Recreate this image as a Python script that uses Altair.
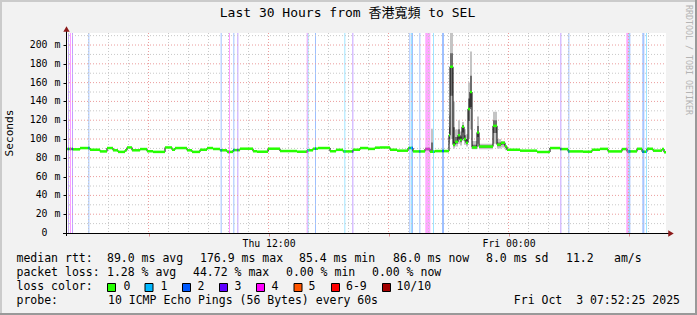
import altair as alt
import pandas as pd
import numpy as np

# ---------------- data ----------------
START = "2025-10-02 01:52:25"      # left edge of the graph (UTC)
SPAN_MIN = 1800                    # 30 hours

# median RTT, step breakpoints: minutes after START, value in ms
med_min = [0, 21, 42, 72, 102, 123, 141, 156, 177, 183, 198, 222, 243, 261, 297, 318, 327, 363, 378, 402,
           423, 441, 462, 483, 501, 522, 561, 573, 606, 642, 693, 723, 741, 756, 792, 810, 831, 861, 882, 906,
           927, 942, 972, 993, 1026, 1041, 1077, 1092, 1107, 1149, 1152, 1161, 1167, 1176, 1182, 1188, 1194,
           1200, 1206, 1212, 1218, 1233, 1239, 1281, 1293, 1305, 1317, 1323, 1362, 1413, 1452, 1482, 1506,
           1551, 1578, 1602, 1626, 1668, 1683, 1713, 1728, 1743, 1761, 1788, 1794]
med_ms = [89.4, 89.0, 90.4, 88.6, 86.8, 90.4, 88.0, 86.3, 88.0, 91.0, 88.0, 89.3, 87.0, 86.3, 91.0, 88.6,
          90.4, 88.0, 86.3, 88.6, 90.4, 89.4, 88.0, 86.3, 88.2, 89.7, 87.0, 86.5, 89.7, 87.2, 86.5, 88.0,
          89.7, 90.4, 87.0, 88.5, 86.8, 88.6, 90.4, 89.5, 90.8, 91.0, 88.6, 87.6, 90.4, 86.8, 89.3, 86.5,
          87.2, 104, 176.9, 94, 97, 104, 99, 113, 100, 96, 132, 150, 91, 107, 92, 114, 94, 96, 92, 88.6,
          87.6, 86.2, 90.4, 89.3, 86.8, 86.5, 88.6, 89.5, 86.8, 89.3, 86.8, 89.6, 86.5, 89.6, 87.6, 89.3, 86.0]

# smoke (min / max ping) where it is visible
smoke_min = [1092, 1095, 1101, 1149, 1152, 1161, 1167, 1176, 1182, 1188, 1194, 1200, 1206, 1212, 1218,
             1233, 1239, 1281, 1293, 1305, 1317, 1323]
smoke_lo = [86, 86, 86, 95, 100, 90, 92, 95, 93, 98, 94, 92, 100, 110, 89, 95, 89, 95, 90, 91, 88, 88.6]
smoke_hi = [87, 111, 88, 125, 213, 140, 110, 120, 108, 118, 110, 105, 160, 193, 98, 124, 95, 129, 100,
            98, 92, 88.6]

# packet loss events: minutes after START, lost pings out of 10
loss_min = [6, 12, 18, 67, 464, 489, 502, 514, 722, 725, 747, 835, 859, 1030, 1035, 1038, 1060, 1078,
            1081, 1084, 1087, 1090, 1101, 1128, 1131, 1483, 1507, 1681, 1684, 1687, 1690, 1729, 1732, 1740]
loss_cnt = [3, 4, 3, 2, 2, 4, 2, 3, 4, 1, 2, 1, 3, 2, 1, 2, 2, 4, 4, 4, 4, 4, 1, 2, 2, 3, 2, 4, 4, 1, 2,
            2, 2, 1]

loss_labels = ["0", "1", "2", "3", "4", "5", "6-9", "10/10"]
loss_colors = ["#26ff00", "#00b8ff", "#0059ff", "#5e00ff", "#ff00fe", "#ff5500", "#ff0000", "#a10000"]

title_text = "Last 30 Hours from 香港寬頻 to SEL"
rtt_stats = ["89.0 ms avg", "176.9 ms max", "85.4 ms min", "86.0 ms now", "8.0 ms sd", "11.2", "am/s"]
loss_stats = ["1.28 % avg", "44.72 % max", "0.00 % min", "0.00 % now"]
probe_text = "10 ICMP Echo Pings (56 Bytes) every 60s"
stamp_text = "Fri Oct \u00a03 07:52:25 2025"
y_ticks = list(range(0, 201, 20))

# ---------------- layout ----------------
MONO = "DejaVu Sans Mono"
PL, PT, W, H = 66, 33, 600, 200
TOT_W, TOT_H = 697, 315

t0 = pd.Timestamp(START, tz="UTC").value // 10**6


def ms(m):
    return int(t0 + round(m * 60000))


def lvl(c):
    if c >= 10:
        return "10/10"
    if c >= 6:
        return "6-9"
    return str(c)


med_arr = np.array(med_ms)


def med_at(m):
    i = int(np.searchsorted(med_min, m, side="right")) - 1
    return float(med_arr[i])


xscale = alt.Scale(type="utc", domain=[ms(0), ms(SPAN_MIN)], nice=False)
yscale = alt.Scale(domain=[0, 212.8], nice=False, zero=True)

six_h = [int(t.value // 10**6) for t in pd.date_range("2025-10-02 06:00", "2025-10-03 06:00", freq="6h", tz="UTC")]
hours = [int(t.value // 10**6) for t in pd.date_range("2025-10-02 02:00", "2025-10-03 07:00", freq="1h", tz="UTC")]
minor_h = [h for h in hours if h not in six_h]

xaxis = alt.Axis(values=six_h,
                 labelExpr="utchours(datum.value) % 12 == 0 ? utcFormat(datum.value, '%a %H:%M') : ''",
                 grid=False, domain=False, ticks=True, tickSize=3, tickColor="#e09090",
                 labelFont=MONO, labelFontSize=9.8, labelColor="black", labelPadding=2,
                 title=None, labelFlush=False, labelOverlap=False)
yaxis = alt.Axis(values=y_ticks, labels=False, grid=False, domain=False, ticks=True, tickSize=3,
                 tickColor="black", title=None)


def X(f):
    return alt.X(f, type="temporal", scale=xscale, axis=xaxis)


def Y(f):
    return alt.Y(f, type="quantitative", scale=yscale, axis=yaxis)


layers = []

# loss background bars
loss_df = pd.DataFrame({
    "t": [ms(m) for m in loss_min],
    "t2": [ms(m + 3) for m in loss_min],
    "lvl": [lvl(c) for c in loss_cnt],
    "v": [med_at(m) for m in loss_min],
})
color_scale = alt.Scale(domain=loss_labels, range=loss_colors)
layers.append(alt.Chart(loss_df).mark_rect(opacity=0.38).encode(
    x=X("t"), x2="t2", y=alt.value(0), y2=alt.value(H),
    color=alt.Color("lvl:N", scale=color_scale, legend=None)))

# grid
layers.append(alt.Chart(pd.DataFrame({"t": minor_h})).mark_rule(
    color="#c8c8c8", strokeDash=[1, 2], strokeWidth=1).encode(x=X("t"), y=alt.value(0), y2=alt.value(H)))
minor_y = [v for v in range(10, 212, 10) if v % 20 != 0]
layers.append(alt.Chart(pd.DataFrame({"v": minor_y})).mark_rule(
    color="#c8c8c8", strokeDash=[1, 2], strokeWidth=1).encode(y=Y("v"), x=alt.value(0), x2=alt.value(W)))
layers.append(alt.Chart(pd.DataFrame({"t": six_h})).mark_rule(
    color="#eb9c9c", strokeDash=[1, 2], strokeWidth=1).encode(x=X("t"), y=alt.value(0), y2=alt.value(H)))
layers.append(alt.Chart(pd.DataFrame({"v": [v for v in y_ticks if v > 0]})).mark_rule(
    color="#eb9c9c", strokeDash=[1, 2], strokeWidth=1).encode(y=Y("v"), x=alt.value(0), x2=alt.value(W)))

# smoke
sm = pd.DataFrame({"t": [ms(m) for m in smoke_min], "lo": smoke_lo, "hi": smoke_hi})
sm["med"] = [med_at(m) for m in smoke_min]
sm["lo_in"] = sm["med"] - (sm["med"] - sm["lo"]) * 0.4
sm["hi_in"] = sm["med"] + (sm["hi"] - sm["med"]) * 0.4
layers.append(alt.Chart(sm).mark_area(color="#c4c4c4", interpolate="step-after", clip=True).encode(
    x=X("t"), y=Y("lo"), y2="hi"))
layers.append(alt.Chart(sm).mark_area(color="#6e6e6e", interpolate="step-after", clip=True).encode(
    x=X("t"), y=Y("lo_in"), y2="hi_in"))

# median line (black step) + coloured segments
line_df = pd.DataFrame({"t": [ms(m) for m in med_min] + [ms(SPAN_MIN)],
                        "v": med_ms + [med_ms[-1]]})
layers.append(alt.Chart(line_df).mark_line(color="black", strokeWidth=1, interpolate="step-after",
                                           clip=True).encode(x=X("t"), y=Y("v")))
seg_df = pd.DataFrame({"t": [ms(m) for m in med_min],
                       "t2": [ms(m) for m in med_min[1:]] + [ms(SPAN_MIN)],
                       "v": med_ms})
layers.append(alt.Chart(seg_df).mark_rule(color="#26ff00", strokeWidth=2.5, clip=True).encode(
    x=X("t"), x2="t2", y=Y("v")))
layers.append(alt.Chart(loss_df).mark_rule(strokeWidth=2.5, clip=True).encode(
    x=X("t"), x2="t2", y=Y("v"), color=alt.Color("lvl:N", scale=color_scale, legend=None)))

# y labels (number + unit)
ylab = pd.DataFrame({"v": y_ticks, "num": [str(v) for v in y_ticks],
                     "unit": ["" if v == 0 else "m" for v in y_ticks]})
layers.append(alt.Chart(ylab).mark_text(font=MONO, fontSize=9.8, align="right", baseline="middle",
                                        color="black").encode(
    y=Y("v"), x=alt.value(47.5 - PL), text="num:N"))
layers.append(alt.Chart(ylab).mark_text(font=MONO, fontSize=9.8, align="center", baseline="middle",
                                        color="black").encode(
    y=Y("v"), x=alt.value(57.5 - PL), text="unit:N"))

one = pd.DataFrame({"a": [0]})


def rect(x1, y1, x2, y2, color, **kw):
    return alt.Chart(one).mark_rect(color=color, **kw).encode(
        x=alt.value(x1 - PL), x2=alt.value(x2 - PL), y=alt.value(y1 - PT), y2=alt.value(y2 - PT))


def txt(s, x, y, size=11.5, align="left", angle=0, color="black", font=MONO):
    return alt.Chart(pd.DataFrame({"s": [s]})).mark_text(
        font=font, fontSize=size, align=align, baseline="middle", angle=angle, color=color).encode(
        x=alt.value(x - PL), y=alt.value(y - PT), text="s:N")


# axes lines and arrows
layers.append(alt.Chart(one).mark_rule(color="black", strokeWidth=1).encode(
    x=alt.value(-3), x2=alt.value(W + 3), y=alt.value(H + 0.5)))
layers.append(alt.Chart(one).mark_rule(color="black", strokeWidth=1).encode(
    x=alt.value(0.5), y=alt.value(H + 3), y2=alt.value(-3)))
layers.append(alt.Chart(one).mark_point(shape="triangle-right", filled=True, color="#8c1a1a", size=40,
                                        opacity=1).encode(x=alt.value(W + 5), y=alt.value(H + 0.5)))
layers.append(alt.Chart(one).mark_point(shape="triangle-up", filled=True, color="#8c1a1a", size=40,
                                        opacity=1).encode(x=alt.value(0.5), y=alt.value(-4)))

# frame (3D shade)
layers.append(rect(0, 0, TOT_W, 2, "#cbcbcb"))
layers.append(rect(0, 0, 2, TOT_H, "#cbcbcb"))
layers.append(rect(0, TOT_H - 2, TOT_W, TOT_H, "#999999"))
layers.append(rect(TOT_W - 2, 0, TOT_W, TOT_H, "#999999"))

# titles
layers.append(txt(title_text, 347.5, 13, size=13, align="center", font=MONO + ", Noto Sans CJK TC"))
layers.append(txt("Seconds", 10, 133, size=11.1, align="center", angle=270))
layers.append(txt("RRDTOOL / TOBI OETIKER", 688, 60, size=8.3, align="center", angle=90, color="#b4b4b4"))

# legend rows
ROW = [259, 273, 287, 301]
layers.append(txt("median rtt:", 16.5, ROW[0]))
for s, x in zip(rtt_stats, [107, 200, 299, 393, 486, 566, 614]):
    layers.append(txt(s, x, ROW[0]))
layers.append(txt("packet loss:", 16.5, ROW[1]))
for s, x in zip(loss_stats, [107, 193, 286, 372]):
    layers.append(txt(s, x, ROW[1]))
layers.append(txt("loss color:", 16.5, ROW[2]))
SQ_X = [107.5, 145, 182.5, 219.5, 256.5, 294, 331.5, 382.5]
LB_X = [123.5, 160.5, 197.5, 234.5, 271.5, 308.5, 346, 396.5]
for lab, col, sx, lx in zip(loss_labels, loss_colors, SQ_X, LB_X):
    layers.append(rect(sx, 283.5, sx + 8, 291.5, col, stroke="black", strokeWidth=1))
    layers.append(txt(lab, lx, ROW[2]))
layers.append(txt("probe:", 16.5, ROW[3]))
layers.append(txt(probe_text, 108, ROW[3]))
layers.append(txt(stamp_text, 680, ROW[3], align="right"))

chart = alt.layer(*layers).properties(
    width=W, height=H,
    padding={"left": PL, "top": PT, "right": TOT_W - PL - W, "bottom": TOT_H - PT - H},
    autosize=alt.AutoSizeParams(type="none"),
    background="#f2f2f2",
).configure_view(fill="white", strokeWidth=0)

chart.save("out.html", embed_options={"renderer": "svg", "actions": False})
